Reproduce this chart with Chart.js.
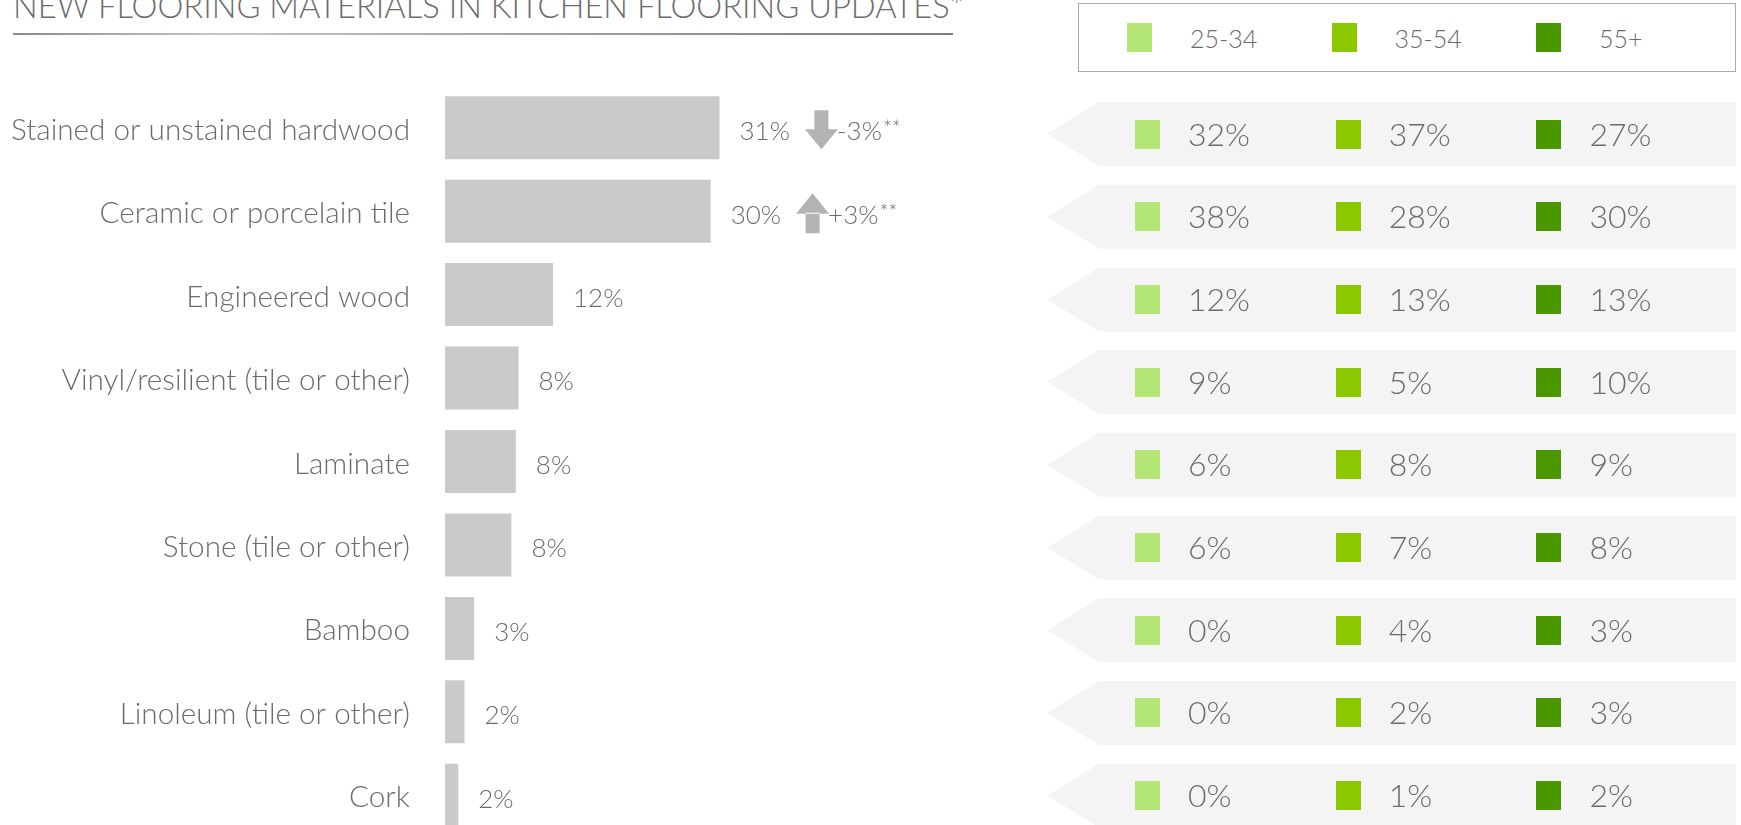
<!DOCTYPE html>
<html>
<head>
<meta charset="utf-8">
<script src="https://cdn.jsdelivr.net/npm/chart.js@4.4.1/dist/chart.umd.min.js"></script>
<style>
  html, body { margin:0; padding:0; background:#fff; width:1741px; height:825px; overflow:hidden; font-family:Lato, "Open Sans", sans-serif; }
  #title { position:absolute; left:13px; top:-10px; font-size:32.7px; line-height:32px; font-weight:300; color:#6b6b6b; white-space:nowrap; }
  #rule { position:absolute; left:13px; top:33px; width:940px; height:2px;
          background:linear-gradient(90deg, #8a8a8a 0%, #c6c6c6 22%, #a2a2a2 55%, #7c7c7c 100%); }
  #legend { position:absolute; left:1078px; top:3px; width:658px; height:69px; box-sizing:border-box; border:1px solid #a9a9a9; }
  .lg-item { position:absolute; top:19px; height:29px; }
  .lg-sw { position:absolute; left:0; top:0; width:25px; height:29px; }
  .lg-tx { position:absolute; left:63px; top:1px; line-height:29px; font-size:25px; font-weight:300; color:#6b6b6b; white-space:nowrap; }
  #c1 { position:absolute; left:0; top:0; }
  #c2 { position:absolute; left:1040px; top:0; }
</style>
</head>
<body>
<div id="title">NEW FLOORING MATERIALS IN KITCHEN FLOORING UPDATES*</div>
<div id="rule"></div>
<div id="legend"></div>
<canvas id="c1" width="960" height="900"></canvas>
<canvas id="c2" width="701" height="900"></canvas>
<script>
// ---------- data ----------
const categories = [
  'Stained or unstained hardwood',
  'Ceramic or porcelain tile',
  'Engineered wood',
  'Vinyl/resilient (tile or other)',
  'Laminate',
  'Stone (tile or other)',
  'Bamboo',
  'Linoleum (tile or other)',
  'Cork'
];
const totalShare  = [31, 30, 12.2, 8.3, 8.0, 7.5, 3.3, 2.2, 1.5];
const totalLabels = ['31%', '30%', '12%', '8%', '8%', '8%', '3%', '2%', '2%'];
const changeLabels    = ['-3%', '+3%', '', '', '', '', '', '', ''];
const changeDirection = ['down', 'up', '', '', '', '', '', '', ''];
const seriesNames  = ['25-34', '35-54', '55+'];
const share25to34  = [32, 38, 12, 9, 6, 6, 0, 0, 0];
const share35to54  = [37, 28, 13, 5, 8, 7, 4, 2, 1];
const share55plus  = [27, 30, 13, 10, 9, 8, 3, 3, 2];
const seriesColors = ['#b4e676', '#8cc800', '#4a9700'];
const seriesValues = [share25to34, share35to54, share55plus];

const TEXT = '#6b6b6b';
const FONT = 'Lato, "Open Sans", sans-serif';

// ---------- HTML legend ----------
const legendEl = document.getElementById('legend');
seriesNames.forEach((name, k) => {
  const it = document.createElement('div');
  it.className = 'lg-item';
  it.style.left = (48 + k * 204.5) + 'px';
  const sw = document.createElement('div'); sw.className = 'lg-sw'; sw.style.background = seriesColors[k];
  const tx = document.createElement('div'); tx.className = 'lg-tx'; tx.textContent = name;
  it.appendChild(sw); it.appendChild(tx); legendEl.appendChild(it);
});

// ---------- left chart: totals ----------
const valueLabelPlugin = {
  id: 'valueLabels',
  afterDatasetsDraw(chart) {
    const ctx = chart.ctx;
    const meta = chart.getDatasetMeta(0);
    ctx.save();
    ctx.fillStyle = TEXT;
    ctx.textAlign = 'left';
    ctx.textBaseline = 'alphabetic';
    meta.data.forEach((bar, i) => {
      ctx.font = '300 26px ' + FONT;
      const x = bar.x + 20;
      const base = bar.y + 3 + 9.4;
      ctx.fillText(totalLabels[i], x, base);
      const dir = changeDirection[i];
      if (dir) {
        const w = ctx.measureText(totalLabels[i]).width;
        const cx = x + w + 15 + 16.5;
        const cy = bar.y + 2;
        ctx.save();
        ctx.fillStyle = '#b3b3b3';
        ctx.beginPath();
        if (dir === 'down') {
          ctx.rect(cx - 7, cy - 19.5, 14, 20);
          ctx.moveTo(cx - 16.5, cy - 0.5);
          ctx.lineTo(cx + 16.5, cy - 0.5);
          ctx.lineTo(cx, cy + 19.5);
          ctx.closePath();
        } else {
          ctx.rect(cx - 7, cy - 0.5, 14, 20.5);
          ctx.moveTo(cx - 16.5, cy + 0.5);
          ctx.lineTo(cx + 16.5, cy + 0.5);
          ctx.lineTo(cx, cy - 20);
          ctx.closePath();
        }
        ctx.fill();
        ctx.restore();
        const tx = cx + 16.5 - 1;
        ctx.fillText(changeLabels[i], tx, base);
        const w2 = ctx.measureText(changeLabels[i]).width;
        ctx.font = '300 21px ' + FONT;
        ctx.fillText('**', tx + w2 + 1, base - 4);
      }
    });
    ctx.restore();
  }
};

new Chart(document.getElementById('c1'), {
  type: 'bar',
  data: {
    labels: categories,
    datasets: [{
      data: totalShare,
      backgroundColor: '#cacaca',
      borderWidth: 0,
      barPercentage: 0.755,
      categoryPercentage: 1
    }]
  },
  options: {
    indexAxis: 'y',
    responsive: false,
    animation: false,
    events: [],
    layout: { padding: { left: 0, right: 72.25, top: 86, bottom: 63 } },
    plugins: { legend: { display: false }, tooltip: { enabled: false } },
    scales: {
      x: { display: false, min: 0, max: 50 },
      y: {
        grid: { display: false, drawTicks: false },
        border: { display: false },
        ticks: { padding: 35, labelOffset: 2.5, color: TEXT, autoSkip: false, font: { family: FONT, size: 29.7, weight: '300' } },
        afterFit(scale) { scale.width = 445; }
      }
    }
  },
  plugins: [valueLabelPlugin]
});

// ---------- right chart: age breakdown ----------
function swatch(color) {
  const c = document.createElement('canvas');
  c.width = 25; c.height = 29;
  const g = c.getContext('2d');
  g.fillStyle = color; g.fillRect(0, 0, 25, 29);
  return c;
}

const panelPlugin = {
  id: 'panel',
  beforeDatasetsDraw(chart) {
    const ctx = chart.ctx;
    const y = chart.scales.y;
    const left = chart.chartArea.left;
    const right = chart.width - 5;
    ctx.save();
    ctx.fillStyle = '#f4f4f4';
    categories.forEach((cat, i) => {
      const yc = y.getPixelForValue(i);
      const top = yc - 32, bot = yc + 32;
      ctx.beginPath();
      ctx.moveTo(left + 52, top);
      ctx.lineTo(right, top);
      ctx.lineTo(right, bot);
      ctx.lineTo(left + 52, bot);
      ctx.lineTo(left, yc);
      ctx.closePath();
      ctx.fill();
    });
    ctx.restore();
  },
  afterDatasetsDraw(chart) {
    const ctx = chart.ctx;
    ctx.save();
    ctx.fillStyle = TEXT;
    ctx.font = '300 32px ' + FONT;
    ctx.textAlign = 'left';
    ctx.textBaseline = 'alphabetic';
    chart.data.datasets.forEach((ds, k) => {
      const meta = chart.getDatasetMeta(k);
      meta.data.forEach((pt, i) => {
        ctx.fillText(seriesValues[k][i] + '%', pt.x + 40.5, pt.y + 11.5);
      });
    });
    ctx.restore();
  }
};

new Chart(document.getElementById('c2'), {
  type: 'scatter',
  data: {
    labels: categories,
    datasets: seriesNames.map((name, k) => ({
      label: name,
      data: categories.map((cat) => ({ x: k, y: cat })),
      pointStyle: swatch(seriesColors[k]),
      pointRadius: 5,
      backgroundColor: seriesColors[k]
    }))
  },
  options: {
    responsive: false,
    animation: false,
    events: [],
    layout: { padding: { left: 7.1, right: 91.7, top: 92.65, bottom: 63.05 } },
    plugins: { legend: { display: false }, tooltip: { enabled: false } },
    scales: {
      x: { type: 'linear', display: false, min: -0.5, max: 2.5 },
      y: { type: 'category', display: false, offset: true }
    }
  },
  plugins: [panelPlugin]
});
</script>
</body>
</html>
